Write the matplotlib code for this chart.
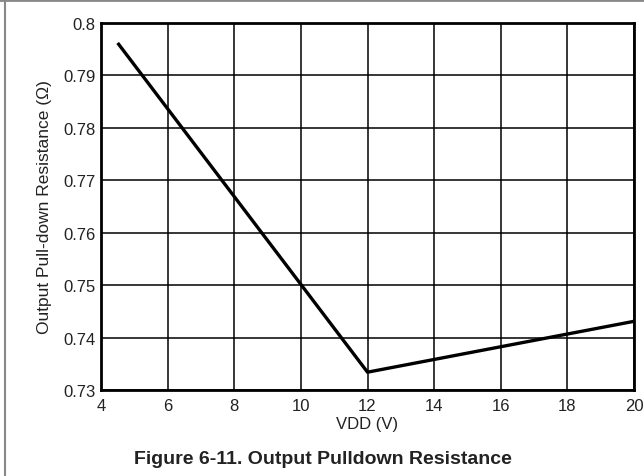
import matplotlib.pyplot as plt
from matplotlib.lines import Line2D

plt.rcParams['font.family'] = ['Liberation Sans', 'DejaVu Sans']

# Data
vdd = [4.5, 12, 20]
resistance = [0.7962, 0.7334, 0.7431]
x_ticks = [4, 6, 8, 10, 12, 14, 16, 18, 20]
y_ticks = [0.73, 0.74, 0.75, 0.76, 0.77, 0.78, 0.79, 0.8]
y_tick_labels = ['0.73', '0.74', '0.75', '0.76', '0.77', '0.78', '0.79', '0.8']

fig = plt.figure(figsize=(6.44, 4.77), dpi=100)
ax = fig.add_axes([101 / 644, 1 - 391 / 477, 533 / 644, 367 / 477])

ax.plot(vdd, resistance, color='black', linewidth=2.4, solid_capstyle='butt', zorder=3)

ax.set_xlim(4, 20)
ax.set_ylim(0.73, 0.8)
ax.set_xticks(x_ticks)
ax.set_yticks(y_ticks)
ax.set_yticklabels(y_tick_labels)
ax.tick_params(length=0, labelsize=12, colors='#222222')
ax.tick_params(axis='x', pad=5.5)
ax.tick_params(axis='y', pad=4)
ax.grid(True, color='black', linewidth=1.1)
for s in ax.spines.values():
    s.set_linewidth(2)
    s.set_color('black')

ax.set_xlabel('VDD (V)', fontsize=12, color='#222222')
ax.xaxis.set_label_coords(0.5, -0.072)
ax.set_ylabel('Output Pull-down Resistance (Ω)', fontsize=12.5, color='#222222')
ax.yaxis.set_label_coords(-0.091, 0.5)

fig.text(323 / 644, 1 - 464 / 477, 'Figure 6-11. Output Pulldown Resistance',
         ha='center', va='baseline', fontsize=14, fontweight='bold', color='#222222')

# gray frame on top and left
fig.add_artist(Line2D([0, 1], [1 - 1 / 477, 1 - 1 / 477], color='#888888', linewidth=2,
                      transform=fig.transFigure))
fig.add_artist(Line2D([4.5 / 644, 4.5 / 644], [0, 1], color='#888888', linewidth=1.5,
                      transform=fig.transFigure))

fig.savefig('out.png', dpi=100)
